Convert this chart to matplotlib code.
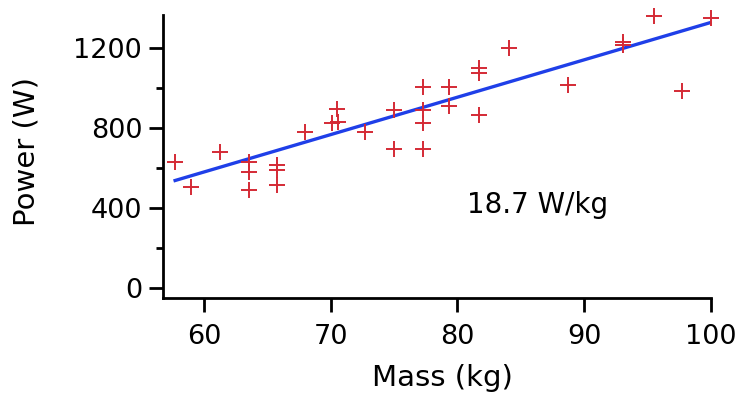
import matplotlib
matplotlib.use("Agg")
import matplotlib.pyplot as plt
import numpy as np

# Data
mass = [57.7, 59.0, 61.3, 63.55, 63.55, 63.55, 65.8, 65.8, 65.8, 68.0,
        70.07, 70.6, 70.5, 72.7, 75.0, 75.0, 77.3, 77.3, 77.3, 77.3,
        79.3, 79.3, 81.7, 81.7, 81.7, 84.07, 88.68, 93.07, 93.07, 95.5,
        97.7, 100.0]
power = [632, 507, 678, 632, 582, 490, 615, 590, 515, 778,
         823, 832, 895, 782, 890, 694, 1005, 888, 825, 694,
         1005, 910, 1098, 1077, 865, 1198, 1015, 1232, 1215, 1360,
         987, 1348]

fit_slope = 18.7          # W/kg
fit_intercept = -542.0    # W
fit_range = [57.6, 100.0]

x_ticks = [60, 70, 80, 90, 100]
y_major = [0, 400, 800, 1200]
y_minor = [200, 600, 1000]
annotation = "18.7 W/kg"

FS = 19.5
FS_LABEL = 21

fig = plt.figure(figsize=(7.42, 3.94), dpi=100)
ax = fig.add_axes([163/742, 1-298/394, (711-163)/742, (298-15)/394])

ax.plot(mass, power, linestyle="none", marker="+", markersize=11,
        markeredgewidth=1.4, color="#d42a35", clip_on=False, zorder=3)

fx = np.array(fit_range)
ax.plot(fx, fit_slope*fx + fit_intercept, color="#1f3fe8", lw=2.4,
        solid_capstyle="butt", zorder=2)

ax.set_xlim(56.77, 100.0)
ax.set_ylim(-50, 1365)
ax.set_xticks(x_ticks)
ax.set_yticks(y_major)
ax.set_yticks(y_minor, minor=True)

for s in ["top", "right"]:
    ax.spines[s].set_visible(False)
for s in ["left", "bottom"]:
    ax.spines[s].set_linewidth(2.0)
    ax.spines[s].set_color("black")

ax.tick_params(axis="x", which="major", direction="out", length=10,
               width=2.0, labelsize=FS, pad=9, colors="black")
ax.tick_params(axis="y", which="major", direction="out", length=10,
               width=2.0, labelsize=FS, pad=5, colors="black")
ax.tick_params(axis="y", which="minor", direction="out", length=5, width=2.0)

ax.set_xlabel("Mass (kg)", fontsize=FS_LABEL, va="center")
ax.set_ylabel("Power (W)", fontsize=FS_LABEL, va="center")
ax.xaxis.set_label_coords((442-163)/548, (298-378)/283)
ax.yaxis.set_label_coords((27-163)/548, (298-152)/283)

ax.text(86.3, 415, annotation, ha="center", va="center", fontsize=FS + 0.5)

fig.savefig("out.png", dpi=100)
